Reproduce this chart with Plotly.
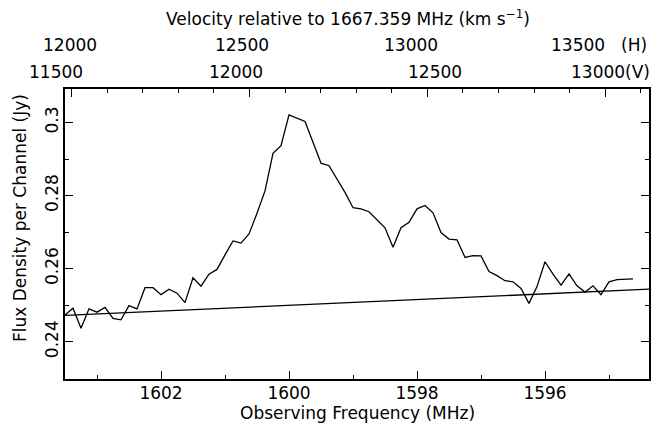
import plotly.graph_objects as go

C_KMS = 299792.458
REST_MHZ = 1667.359

# Channel frequencies (MHz)
freq = [1603.5, 1603.375, 1603.25, 1603.125, 1603.0, 1602.875, 1602.75, 1602.625,
        1602.5, 1602.375, 1602.25, 1602.125, 1602.0, 1601.875, 1601.75, 1601.625,
        1601.5, 1601.375, 1601.25, 1601.125, 1601.0, 1600.875, 1600.75, 1600.625,
        1600.5, 1600.375, 1600.25, 1600.125, 1600.0, 1599.875, 1599.75, 1599.625,
        1599.5, 1599.375, 1599.25, 1599.125, 1599.0, 1598.875, 1598.75, 1598.625,
        1598.5, 1598.375, 1598.25, 1598.125, 1598.0, 1597.875, 1597.75, 1597.625,
        1597.5, 1597.375, 1597.25, 1597.125, 1597.0, 1596.875, 1596.75, 1596.625,
        1596.5, 1596.375, 1596.25, 1596.125, 1596.0, 1595.875, 1595.75, 1595.625,
        1595.5, 1595.375, 1595.25, 1595.125, 1595.0, 1594.875, 1594.75, 1594.625]

# Flux density per channel (Jy)
flux = [0.2473, 0.2492, 0.2437, 0.2490, 0.2481, 0.2494, 0.2464, 0.2460,
        0.2499, 0.2490, 0.2548, 0.2548, 0.2529, 0.2544, 0.2533, 0.2507,
        0.2575, 0.2552, 0.2585, 0.2598, 0.2638, 0.2676, 0.2670, 0.2695,
        0.2752, 0.2813, 0.2916, 0.2937, 0.3021, 0.3012, 0.3003, 0.2946,
        0.2889, 0.2882, 0.2845, 0.2809, 0.2767, 0.2764, 0.2756, 0.2733,
        0.2712, 0.2659, 0.2712, 0.2727, 0.2764, 0.2773, 0.2753, 0.2699,
        0.2681, 0.2679, 0.2631, 0.2636, 0.2635, 0.2592, 0.2581, 0.2567,
        0.2564, 0.2546, 0.2505, 0.2551, 0.2619, 0.2585, 0.2555, 0.2586,
        0.2553, 0.2536, 0.2553, 0.2529, 0.2564, 0.2570, 0.2570, 0.2572]

# Fitted baseline (end points)
baseline_freq = [1603.5, 1594.375]
baseline_flux = [0.2472, 0.2544]

# Axis ticks
freq_major = [1602, 1600, 1598, 1596]
freq_minor = [1603, 1601, 1599, 1597, 1595]
flux_major = [0.24, 0.26, 0.28, 0.30]
flux_major_text = ["0.24", "0.26", "0.28", "0.3"]
flux_minor = [0.25, 0.27, 0.29]

v_major = [11500, 12000, 12500, 13000]          # (V) labels / major ticks
v_minor = [11600, 11700, 11800, 11900, 12100, 12200, 12300, 12400,
           12600, 12700, 12800, 12900, 13100]
h_labels = [12000, 12500, 13000, 13500]         # (H) labels

x_range = [1603.5, 1594.375]
y_range = [0.2298, 0.3092]

# label nudges (px), styling only
H_NUDGE = [-15, -7, -2, 2]
V_NUDGE = [-15, -13, 8, -7]


def radio_freq(v):
    return REST_MHZ * (1.0 - v / C_KMS)


def optical_freq(v):
    return REST_MHZ / (1.0 + v / C_KMS)


FONT = "DejaVu Sans"
FS = 17

fig = go.Figure()
fig.add_trace(go.Scatter(x=freq, y=flux, mode="lines",
                         line=dict(color="black", width=1.3),
                         showlegend=False, hoverinfo="skip"))
fig.add_trace(go.Scatter(x=baseline_freq, y=baseline_flux, mode="lines",
                         line=dict(color="black", width=1.3),
                         showlegend=False, hoverinfo="skip"))
fig.add_trace(go.Scatter(x=[radio_freq(v) for v in v_major], y=[None] * 4,
                         xaxis="x2", mode="lines", showlegend=False,
                         hoverinfo="skip"))

axis_common = dict(showgrid=False, zeroline=False, showline=True,
                   linecolor="black", linewidth=1.5, ticks="inside",
                   tickcolor="black", tickwidth=1.3, automargin=False,
                   tickfont=dict(family=FONT, size=FS, color="black"))

fig.update_layout(
    width=652, height=425,
    margin=dict(l=65, r=3, t=89, b=46, autoexpand=False),
    paper_bgcolor="white", plot_bgcolor="white",
    xaxis=dict(range=x_range, tickmode="array", tickvals=freq_major,
               ticktext=[str(v) for v in freq_major], ticklen=8, mirror=True,
               ticklabelstandoff=-2,
               minor=dict(tickvals=freq_minor, ticklen=4, ticks="inside",
                          tickcolor="black", tickwidth=1.3),
               **axis_common),
    xaxis2=dict(range=x_range, overlaying="x", side="top", anchor="y",
                tickmode="array", tickvals=[radio_freq(v) for v in v_major],
                showticklabels=False, ticks="inside", ticklen=8,
                tickcolor="black", tickwidth=1.3, showgrid=False,
                zeroline=False, showline=False, automargin=False,
                minor=dict(tickvals=[radio_freq(v) for v in v_minor],
                           ticklen=4, ticks="inside", tickcolor="black",
                           tickwidth=1.3)),
    yaxis=dict(range=y_range, tickmode="array", tickvals=flux_major,
               ticktext=flux_major_text, tickangle=-90, ticklen=8,
               mirror="ticks", ticklabelstandoff=-2,
               minor=dict(tickvals=flux_minor, ticklen=4, ticks="inside",
                          tickcolor="black", tickwidth=1.3),
               **axis_common),
)

ann_font = dict(family=FONT, size=FS, color="black")
annotations = []
annotations.append(dict(text="Velocity relative to 1667.359 MHz (km s<sup>\u22121</sup>)",
                        xref="paper", yref="paper", x=0.485, y=1, yshift=71,
                        xanchor="center", yanchor="middle", showarrow=False,
                        font=ann_font))
for v, dx in zip(h_labels, H_NUDGE):
    annotations.append(dict(text=str(v), xref="x", yref="paper",
                            x=optical_freq(v), y=1, yshift=44, xshift=dx,
                            xanchor="center", yanchor="middle",
                            showarrow=False, font=ann_font))
for v, dx in zip(v_major, V_NUDGE):
    annotations.append(dict(text=str(v), xref="x", yref="paper",
                            x=radio_freq(v), y=1, yshift=17, xshift=dx,
                            xanchor="center", yanchor="middle",
                            showarrow=False, font=ann_font))
annotations.append(dict(text="(H)", xref="paper", yref="paper", x=1, y=1,
                        yshift=44, xshift=0, xanchor="right", yanchor="middle",
                        showarrow=False, font=ann_font))
annotations.append(dict(text="(V)", xref="paper", yref="paper", x=1, y=1,
                        yshift=17, xshift=3, xanchor="right", yanchor="middle",
                        showarrow=False, font=ann_font))
annotations.append(dict(text="Observing Frequency (MHz)", xref="paper",
                        yref="paper", x=0.5, y=0, yshift=-34,
                        xanchor="center", yanchor="middle", showarrow=False,
                        font=ann_font))
annotations.append(dict(text="Flux Density per Channel (Jy)", xref="paper",
                        yref="paper", x=0, y=0.555, xshift=-45,
                        xanchor="center", yanchor="middle", textangle=-90,
                        showarrow=False, font=ann_font))
fig.update_layout(annotations=annotations)

fig.write_html("out.html", config={"displayModeBar": False},
               post_script="document.body.style.margin='0';"
                           "document.body.style.overflow='hidden';")
